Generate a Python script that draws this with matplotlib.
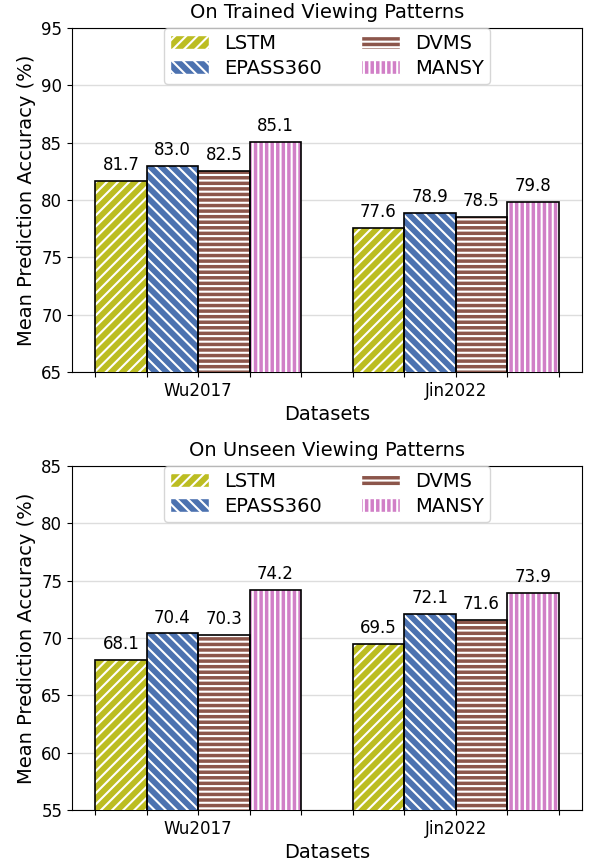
import numpy as np
import matplotlib.pyplot as plt
from matplotlib.patches import Patch

datasets = ['Wu2017', 'Jin2022']
methods = ['LSTM', 'EPASS360', 'DVMS', 'MANSY']
trained = {
    'LSTM': [81.7, 77.6],
    'EPASS360': [83.0, 78.9],
    'DVMS': [82.5, 78.5],
    'MANSY': [85.1, 79.8],
}
unseen = {
    'LSTM': [68.1, 69.5],
    'EPASS360': [70.4, 72.1],
    'DVMS': [70.3, 71.6],
    'MANSY': [74.2, 73.9],
}

colors = ['#bcbd22', '#4c72b0', '#8c564b', '#d17fc7']
hatches = ['///', '\\\\\\', '---', '|||']
width = 0.2

plt.rcParams['hatch.linewidth'] = 1.5

fig = plt.figure(figsize=(5.9, 8.63), dpi=100)
ax1 = fig.add_axes([0.122, 0.569, 0.864, 0.3985])
ax2 = fig.add_axes([0.122, 0.0614, 0.864, 0.3986])


def draw(ax, data, title, ylim):
    x = np.arange(len(datasets))
    for i, m in enumerate(methods):
        pos = x + (i - 1.5) * width
        # white hatch over the colour fill, black outline on top
        ax.bar(pos, data[m], width, color=colors[i], edgecolor='white',
               hatch=hatches[i], linewidth=0, zorder=3)
        ax.bar(pos, data[m], width, fill=False, edgecolor='black',
               linewidth=1.2, zorder=4)
        for p, v in zip(pos, data[m]):
            ax.text(p, v + 0.6, f'{v:.1f}', ha='center', va='bottom',
                    fontsize=12)
    edges = np.sort(np.concatenate([x + k * width for k in (-2, -1, 0, 1, 2)]))
    ax.set_xticks(edges)
    ax.set_xticklabels([datasets[int(round(e))] if abs(e - round(e)) < 1e-6 else ''
                        for e in edges], fontsize=12)
    ax.set_xlim(-0.49, 1.49)
    ax.set_ylim(*ylim)
    ax.set_yticks(np.arange(ylim[0], ylim[1] + 1, 5))
    ax.tick_params(axis='y', labelsize=12)
    ax.yaxis.grid(True, color='#dddddd', linewidth=1, zorder=0)
    ax.set_axisbelow(True)
    ax.set_xlabel('Datasets', fontsize=14)
    ax.set_ylabel('Mean Prediction Accuracy (%)', fontsize=14)
    ax.set_title(title, fontsize=14, pad=7)
    handles = [Patch(facecolor=colors[i], edgecolor='white', hatch=hatches[i])
               for i in range(len(methods))]
    ax.legend(handles, methods, ncol=2, loc='upper center', fontsize=14,
              bbox_to_anchor=(0.5, 1.0), borderaxespad=0.0,
              handlelength=2.0, borderpad=0.3, labelspacing=0.3)


draw(ax1, trained, 'On Trained Viewing Patterns', (65, 95))
draw(ax2, unseen, 'On Unseen Viewing Patterns', (55, 85))

fig.savefig('out.png', dpi=100)
